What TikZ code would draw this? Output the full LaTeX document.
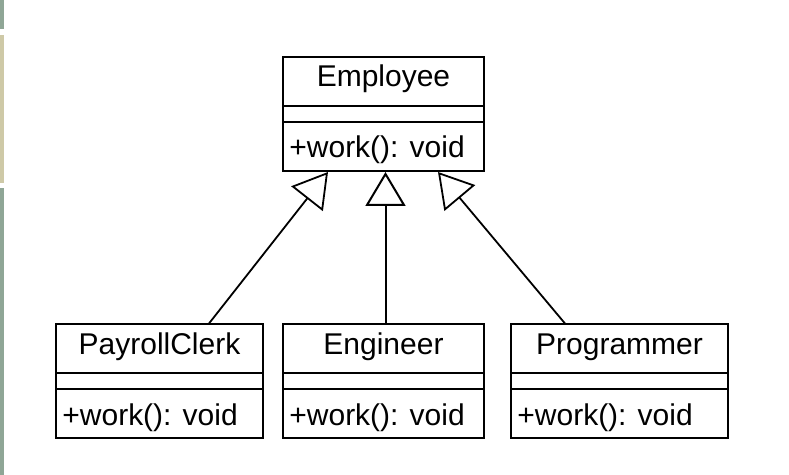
\documentclass[tikz,border=0pt]{standalone}
\usepackage{fontspec}
\setmainfont{Liberation Sans}
\usetikzlibrary{arrows.meta}

\definecolor{bandevert}{HTML}{8FA696}
\definecolor{bandebeige}{HTML}{CEC9A7}

% une classe UML : nom du noeud, position, largeur, titre
\newcommand{\classe}[4]{%
	\node[classe,minimum width=#3](#1) at (#2) {};
	\draw[separe] ([yshift=-25pt]#1.north west) -- ([yshift=-25pt]#1.north east);
	\draw[separe] ([yshift=-33pt]#1.north west) -- ([yshift=-33pt]#1.north east);
	\node[texte,anchor=base](#1-nom) at ([yshift=-15.5pt]#1.north) {#4};
	\node[texte,anchor=base west](#1-op) at ([xshift=3.5pt,yshift=-51pt]#1.north west) {+work(): void};
}

\begin{document}
\begin{tikzpicture}[x=0.5pt,y=-0.5pt]
		\tikzstyle{classe} = [draw,line width=1pt,minimum height=57pt,inner sep=0pt]
		\tikzstyle{separe} = [line width=1pt]
		\tikzstyle{texte} = [inner sep=0pt,font=\fontsize{15}{18}\selectfont]
		\tikzstyle{herite} = [-{Triangle[open,length=17pt,width=20pt]},line width=0.9pt]
		
		\useasboundingbox (0,0) rectangle (789,475);
		
		% bande sur le bord gauche
		\fill[bandevert] (0,0) rectangle (3.5,29);
		\fill[bandebeige] (0,35) rectangle (3.5,183);
		\fill[bandevert] (0,188) rectangle (3.5,475);
		
		\classe{Emp}{383.5,114}{100.5pt}{Employee}
		\classe{Pay}{159.5,381.5}{103.5pt}{PayrollClerk}
		\classe{Eng}{383.5,381.5}{100.5pt}{Engineer}
		\classe{Prog}{619.5,381.5}{108.5pt}{Programmer}
		
		\draw[herite] ([xshift=24.75pt]Pay.north) -- ([xshift=-27.75pt]Emp.south);
		\draw[herite,line width=1pt] ([xshift=1pt]Eng.north) -- ([xshift=1pt]Emp.south);
		\draw[herite] ([xshift=-27.25pt]Prog.north) -- ([xshift=27.25pt]Emp.south);
		
\end{tikzpicture}
\end{document}
